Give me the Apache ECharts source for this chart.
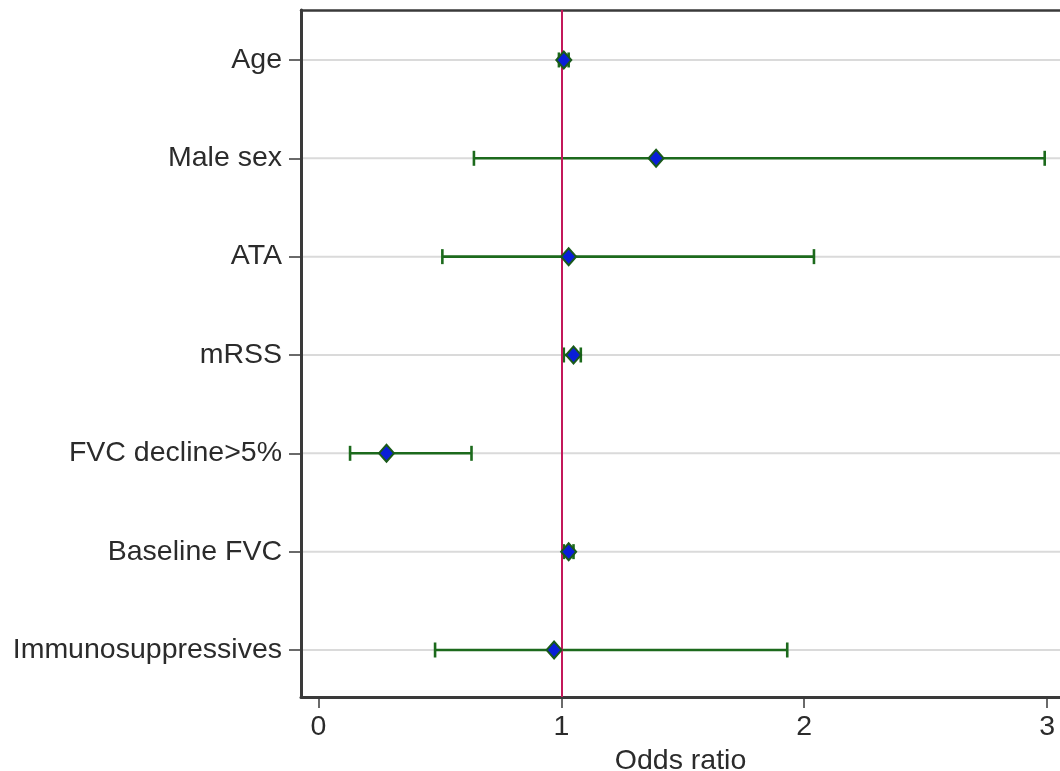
<!DOCTYPE html>
<html>
<head>
<meta charset="utf-8">
<script src="https://cdn.jsdelivr.net/npm/echarts@6/dist/echarts.min.js"></script>
<style>
html,body{margin:0;padding:0;background:#fff;}
#chart{width:1060px;height:771px;}
</style>
</head>
<body>
<div id="chart"></div>
<script>
// Data
const categories = ['Age', 'Male sex', 'ATA', 'mRSS', 'FVC decline>5%', 'Baseline FVC', 'Immunosuppressives'];
const oddsRatio = [1.01, 1.39, 1.03, 1.05, 0.28, 1.03, 0.97];
const ciLower   = [0.99, 0.64, 0.51, 1.01, 0.13, 1.01, 0.48];
const ciUpper   = [1.03, 2.99, 2.04, 1.08, 0.63, 1.05, 1.93];
const xTicks = [0, 1, 2, 3];
const refLine = 1;

const rowIdx = categories.map((_, i) => i);
const font = '"Liberation Sans", Arial, Helvetica, sans-serif';
const textColor = '#2b2b2b';
const axisColor = '#3a3a3a';

const chart = echarts.init(document.getElementById('chart'), null, {renderer: 'canvas'});

const ciData = categories.map((c, i) => [ciLower[i], ciUpper[i], i]);
const ptData = categories.map((c, i) => [oddsRatio[i], i]);
const gridData = rowIdx.map(i => [i]);

chart.setOption({
  animation: false,
  backgroundColor: '#ffffff',
  grid: {left: 301, top: 10, right: 0, bottom: 74, containLabel: false, outerBoundsMode: 'none'},
  xAxis: [{
    type: 'value',
    position: 'bottom',
    min: -0.072,
    max: 3.053,
    axisLine: {show: true, onZero: false, lineStyle: {color: axisColor, width: 3}},
    axisTick: {show: true, length: 11, customValues: xTicks, lineStyle: {color: axisColor, width: 1.5}},
    axisLabel: {show: true, customValues: xTicks, margin: 16, fontSize: 28.5, color: textColor, fontFamily: font},
    splitLine: {show: false},
    name: 'Odds ratio',
    nameLocation: 'middle',
    nameGap: 46,
    nameTextStyle: {fontSize: 28.5, color: textColor, fontFamily: font}
  }, {
    type: 'value',
    position: 'top',
    min: -0.072,
    max: 3.053,
    axisLine: {show: true, onZero: false, lineStyle: {color: axisColor, width: 2.5}},
    axisTick: {show: false},
    axisLabel: {show: false},
    splitLine: {show: false}
  }],
  yAxis: {
    type: 'value',
    inverse: true,
    min: -0.508,
    max: 6.478,
    axisLine: {show: true, onZero: false, lineStyle: {color: axisColor, width: 3}},
    axisTick: {show: true, length: 12, customValues: rowIdx, lineStyle: {color: axisColor, width: 1.5}},
    axisLabel: {
      show: true, customValues: rowIdx, margin: 19, fontSize: 28.5, color: textColor, fontFamily: font,
      formatter: v => categories[Math.round(v)]
    },
    splitLine: {show: false}
  },
  series: [
    {
      // horizontal grid lines at each row
      type: 'custom',
      xAxisIndex: 0,
      silent: true,
      z: 1,
      renderItem: (params, api) => {
        const y = api.coord([0, api.value(0)])[1];
        const cs = params.coordSys;
        return {
          type: 'line',
          shape: {x1: cs.x + 2, y1: y, x2: cs.x + cs.width, y2: y},
          style: {stroke: '#dadada', lineWidth: 2}
        };
      },
      encode: {y: 0},
      data: gridData
    },
    {
      // confidence intervals
      type: 'custom',
      xAxisIndex: 0,
      z: 3,
      renderItem: (params, api) => {
        const lo = api.coord([api.value(0), api.value(2)]);
        const hi = api.coord([api.value(1), api.value(2)]);
        const h = 7.5;
        const st = {stroke: '#1c6a1c', lineWidth: 2.6};
        return {
          type: 'group',
          children: [
            {type: 'line', shape: {x1: lo[0], y1: lo[1], x2: hi[0], y2: hi[1]}, style: st},
            {type: 'line', shape: {x1: lo[0], y1: lo[1] - h, x2: lo[0], y2: lo[1] + h}, style: st},
            {type: 'line', shape: {x1: hi[0], y1: hi[1] - h, x2: hi[0], y2: hi[1] + h}, style: st}
          ]
        };
      },
      encode: {x: [0, 1], y: 2},
      data: ciData
    },
    {
      type: 'scatter',
      xAxisIndex: 0,
      z: 5,
      symbol: 'diamond',
      symbolSize: [15, 17],
      itemStyle: {color: '#0a1ed8', borderColor: '#1a5a1a', borderWidth: 2, opacity: 1},
      data: ptData,
      markLine: {
        silent: true,
        symbol: 'none',
        label: {show: false},
        lineStyle: {color: '#c3185a', width: 2, type: 'solid'},
        data: [{xAxis: refLine}]
      }
    }
  ]
});
</script>
</body>
</html>
